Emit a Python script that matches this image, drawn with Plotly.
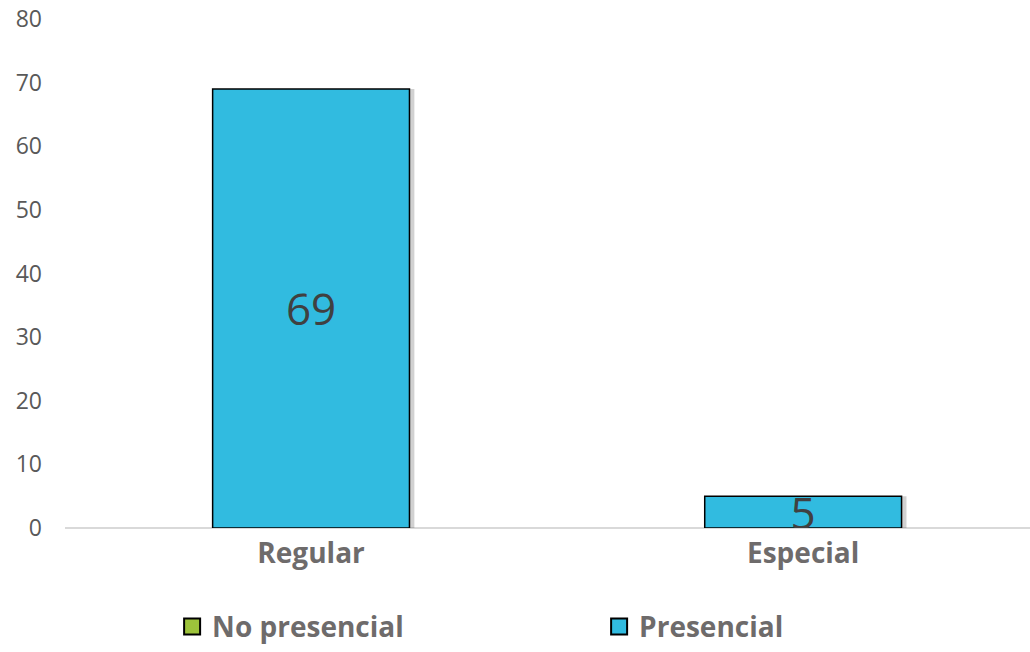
import plotly.graph_objects as go

categories = ["Regular", "Especial"]
no_presencial = [0, 0]
presencial = [69, 5]
series_names = ["No presencial", "Presencial"]
y_ticks = [0, 10, 20, 30, 40, 50, 60, 70, 80]

GREEN = "#9DC33B"
BLUE = "#31BBE0"
LABEL_FONT = dict(family="Open Sans", size=28, color="#6E6B6B", weight="bold")

fig = go.Figure()

# soft shadow behind the visible bars
fig.add_trace(go.Bar(
    x=categories, y=presencial, width=0.4, offset=-0.2 + 0.01,
    marker=dict(color="rgba(0,0,0,0.18)", line=dict(width=0)),
    showlegend=False, hoverinfo="skip",
))
fig.add_trace(go.Bar(
    x=categories, y=no_presencial, name=series_names[0], width=0.4,
    marker=dict(color=GREEN, line=dict(color="black", width=0)),
    showlegend=False,
))
fig.add_trace(go.Bar(
    x=categories, y=presencial, name=series_names[1], width=0.4,
    marker=dict(color=BLUE, line=dict(color="black", width=1.5)),
    text=[str(v) for v in presencial], textposition="inside", textangle=0,
    insidetextanchor="middle", constraintext="none",
    textfont=dict(family="Open Sans", size=44, color="#404040"),
    showlegend=False,
))

# legend entries
for nm, col in zip(series_names, [GREEN, BLUE]):
    fig.add_trace(go.Scatter(
        x=[None], y=[None], mode="markers", name=nm,
        marker=dict(symbol="square", size=16, color=col,
                    line=dict(color="black", width=2)),
    ))

fig.update_layout(
    width=1030, height=652,
    barmode="overlay",
    paper_bgcolor="white", plot_bgcolor="white",
    margin=dict(l=65, r=0, t=19, b=124),
    showlegend=True,
    legend=dict(
        orientation="h", x=0.111, xanchor="left", y=-0.243, yanchor="bottom",
        entrywidth=382, entrywidthmode="pixels", itemsizing="trace",
        font=LABEL_FONT,
    ),
    xaxis=dict(
        type="category", showgrid=False, showline=False, ticks="",
        tickfont=LABEL_FONT, range=[-0.5, 1.461], automargin=False,
        ticklabelstandoff=6,
    ),
    yaxis=dict(
        range=[0, 80], tickvals=y_ticks, showgrid=False, zeroline=True,
        zerolinecolor="#D9D9D9", zerolinewidth=2, showline=False,
        tickfont=dict(family="Open Sans", size=23, color="#595959"),
        ticks="", ticklabelstandoff=22, automargin=False,
    ),
)

fig.write_html(
    "out.html",
    config={"displayModeBar": False},
    post_script="document.body.style.margin='0px';document.body.style.padding='0px';",
)
